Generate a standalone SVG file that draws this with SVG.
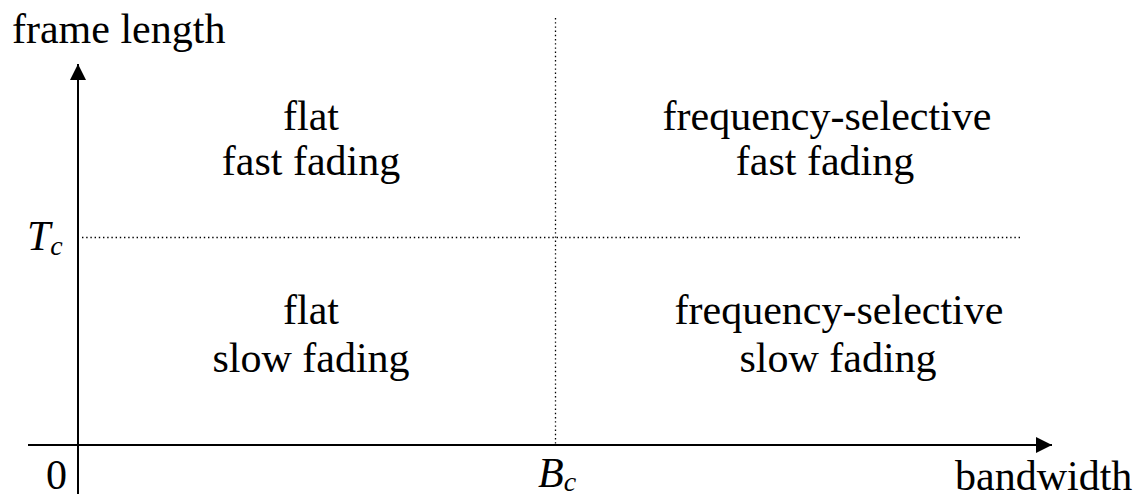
<svg xmlns="http://www.w3.org/2000/svg" width="1137" height="497" viewBox="0 0 1137 497">
<defs>
<style>
text{font-family:"Liberation Serif","Times New Roman",serif;font-size:42px;fill:#000}
.c{text-anchor:middle}
.it{font-style:italic}
.sub{font-size:28px}
.axis{stroke:#000;stroke-width:2;fill:none}
.dot{stroke:#000;stroke-width:1.3;stroke-dasharray:1.4 2.8;fill:none}
</style>
<marker id="ah" viewBox="0 0 16 16" refX="16" refY="8" markerWidth="16" markerHeight="16" markerUnits="userSpaceOnUse" orient="auto">
<path d="M0,0 L16,8 L0,16 Z" fill="#000"/>
</marker>
</defs>
<rect width="1137" height="497" fill="#fff"/>
<g id="connectors">
<line class="dot" x1="555.5" y1="18" x2="555.5" y2="445"/>
<line class="dot" x1="82" y1="237.5" x2="1022" y2="237.5"/>
<line class="axis" x1="78" y1="494" x2="78" y2="64" marker-end="url(#ah)"/>
<line class="axis" x1="28" y1="445" x2="1052" y2="445" marker-end="url(#ah)"/>
</g>
<g id="axis-labels">
<text x="12" y="43">frame length</text>
<text x="955" y="490">bandwidth</text>
<text x="46" y="489">0</text>
<text x="27" y="250" class="it">T<tspan class="sub" dy="5">c</tspan></text>
<text x="538" y="487" class="it">B<tspan class="sub" dy="4">c</tspan></text>
</g>
<g id="flat-fast">
<text class="c" x="311" y="130">flat</text>
<text class="c" x="311" y="175">fast fading</text>
</g>
<g id="fs-fast">
<text class="c" x="827" y="130">frequency-selective</text>
<text class="c" x="825" y="175">fast fading</text>
</g>
<g id="flat-slow">
<text class="c" x="311" y="324">flat</text>
<text class="c" x="311" y="372">slow fading</text>
</g>
<g id="fs-slow">
<text class="c" x="839" y="324">frequency-selective</text>
<text class="c" x="838" y="372">slow fading</text>
</g>
</svg>
